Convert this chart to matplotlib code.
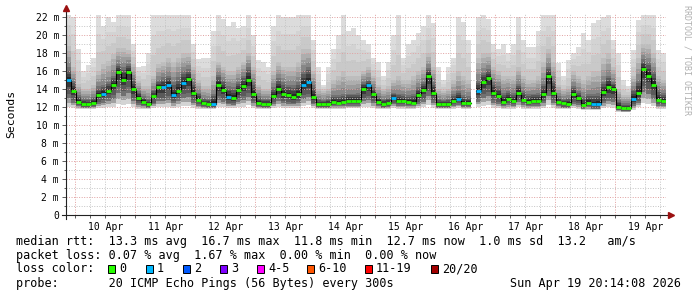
import numpy as np
import matplotlib
matplotlib.use("Agg")
import matplotlib.pyplot as plt
from matplotlib.patches import Rectangle

nan = np.nan

# 2-hour consolidated steps, hours relative to 10 Apr 00:00
t_start = -(3 + 46 / 60)
step_h = 2.0

median = [15.0, 13.8, 12.6, 12.3, 12.3, 12.5, 13.3, 13.5, 13.8, 14.4,
          15.9, 15.0, 15.9, 14.0, 13.0, 12.6, 12.3, 13.2, 14.2, 14.2,
          14.5, 13.3, 13.8, 14.7, 15.1, 13.6, 12.8, 12.4, 12.35, 12.35,
          14.45, 13.9, 13.15, 13.0, 13.85, 14.3, 15.05, 13.4, 12.45, 12.35,
          12.35, 13.2, 14.0, 13.4, 13.3, 13.15, 13.4, 14.5, 14.8, 13.1,
          12.3, 12.3, 12.35, 12.6, 12.5, 12.6, 12.7, 12.7, 12.7, 14.0,
          14.4, 13.4, 12.6, 12.35, 12.45, 13.0, 12.7, 12.7, 12.55, 12.5,
          13.3, 13.9, 15.4, 13.6, 12.3, 12.3, 12.3, 12.7, 12.9, 12.45,
          12.45, nan, 13.8, 14.8, 15.2, 13.6, 13.2, 12.6, 12.9, 12.65,
          13.6, 12.8, 12.6, 12.7, 12.7, 13.4, 15.4, 13.6, 12.55, 12.4,
          12.35, 13.4, 12.95, 12.25, 12.5, 12.3, 12.3, 13.7, 14.2, 14.0,
          12.0, 11.9, 11.85, 12.9, 13.6, 16.2, 15.5, 14.5, 12.75, 12.7]

loss = [1, 0, 0, 0, 0, 0, 0, 1, 0, 0,
        0, 0, 0, 0, 0, 0, 0, 0, 0, 1,
        1, 1, 0, 1, 0, 0, 0, 0, 0, 1,
        0, 0, 1, 0, 0, 0, 0, 0, 0, 0,
        0, 0, 0, 0, 0, 0, 0, 1, 1, 0,
        0, 0, 0, 0, 0, 0, 0, 0, 0, 0,
        1, 0, 0, 0, 0, 1, 0, 0, 0, 0,
        0, 0, 0, 0, 0, 0, 0, 0, 1, 0,
        0, 0, 1, 0, 0, 0, 0, 0, 0, 0,
        0, 0, 0, 0, 0, 0, 0, 0, 0, 0,
        0, 0, 0, 0, 0, 1, 1, 0, 0, 0,
        0, 0, 0, 1, 0, 0, 0, 0, 0, 0]

smoke_top = [22.2, 22.0, 18.5, 16.0, 16.7, 17.4, 22.2, 21.0, 22.0, 21.5,
             22.2, 22.2, 22.2, 19.0, 16.5, 16.6, 18.0, 22.2, 22.2, 22.2,
             22.2, 22.2, 22.2, 22.2, 22.2, 19.0, 17.3, 17.4, 17.4, 20.5,
             22.2, 21.8, 21.0, 21.5, 20.8, 21.0, 22.2, 20.0, 17.2, 17.0,
             16.5, 21.0, 22.2, 22.0, 22.0, 22.0, 22.2, 22.2, 22.2, 19.5,
             16.5, 14.5, 16.5, 18.5, 20.0, 22.2, 20.5, 20.8, 20.0, 19.5,
             19.0, 17.5, 17.0, 15.5, 17.0, 20.0, 22.2, 17.5, 19.0, 19.5,
             20.2, 21.0, 22.2, 21.3, 16.5, 15.0, 16.5, 17.5, 22.0, 21.5,
             19.5, nan, 22.0, 22.2, 21.8, 19.0, 18.5, 19.0, 18.0, 19.0,
             22.0, 19.5, 18.7, 18.7, 20.5, 22.2, 22.2, 22.2, 16.9, 15.4,
             17.2, 18.0, 18.7, 20.2, 19.5, 21.3, 21.7, 22.0, 22.2, 19.4,
             18.0, 15.0, 14.3, 18.3, 21.7, 22.2, 22.2, 22.2, 18.3, 18.0]

smoke_mid = [18.8, 16.4, 14.6, 14.0, 14.0, 14.5, 16.0, 16.8, 17.1, 17.9,
             18.6, 18.6, 18.3, 16.8, 14.9, 14.3, 14.3, 15.5, 16.8, 17.0,
             17.5, 17.0, 17.5, 18.0, 18.0, 16.5, 15.0, 14.3, 14.3, 15.5,
             17.0, 16.5, 16.0, 16.0, 16.5, 17.0, 18.0, 16.5, 14.5, 14.0,
             14.0, 16.0, 17.0, 16.5, 16.5, 16.5, 17.0, 18.5, 18.5, 16.0,
             14.0, 13.8, 14.0, 15.0, 15.5, 16.0, 15.5, 15.5, 15.5, 16.0,
             16.5, 15.5, 14.5, 14.0, 14.3, 15.0, 15.5, 15.0, 15.0, 15.5,
             16.0, 16.5, 18.0, 16.5, 14.0, 13.8, 14.0, 15.0, 16.0, 15.5,
             15.0, nan, 17.5, 18.0, 18.0, 16.5, 16.0, 15.5, 15.5, 15.5,
             16.5, 15.5, 15.0, 15.0, 15.5, 17.0, 18.5, 17.0, 14.5, 14.0,
             14.3, 16.0, 15.5, 15.0, 15.5, 16.0, 16.0, 17.5, 18.0, 16.5,
             14.0, 13.3, 13.3, 15.5, 17.5, 19.0, 19.0, 18.0, 15.5, 15.0]

smoke_dark = [16.4, 14.9, 13.3, 13.0, 12.9, 13.1, 14.3, 14.5, 14.8, 15.5,
              16.8, 16.5, 16.8, 15.2, 13.8, 13.2, 12.9, 13.9, 15.0, 15.3,
              15.5, 14.8, 15.3, 16.0, 16.2, 14.8, 13.6, 13.0, 12.9, 13.5,
              15.6, 15.0, 14.3, 14.2, 14.8, 15.5, 16.5, 14.8, 13.2, 12.9,
              12.9, 14.2, 15.2, 14.8, 14.5, 14.5, 14.8, 16.0, 16.5, 14.5,
              12.9, 12.8, 12.9, 13.3, 13.3, 13.5, 13.5, 13.5, 13.6, 14.8,
              15.0, 14.2, 13.2, 12.9, 13.0, 13.6, 13.5, 13.4, 13.3, 13.4,
              14.2, 14.8, 16.3, 14.8, 12.9, 12.8, 12.9, 13.4, 13.8, 13.3,
              13.2, nan, 15.0, 15.8, 16.2, 14.8, 14.3, 13.6, 13.8, 13.6,
              14.6, 13.8, 13.4, 13.5, 13.6, 14.6, 16.5, 15.0, 13.2, 12.9,
              13.0, 14.3, 13.8, 13.2, 13.4, 13.5, 13.6, 14.8, 15.5, 14.8,
              12.8, 12.4, 12.4, 14.0, 15.0, 17.3, 17.0, 16.0, 14.0, 13.6]

smoke_low = [13.5, 12.8, 12.2, 12.0, 12.0, 12.1, 12.6, 12.8, 13.0, 13.3,
             14.2, 13.8, 14.2, 13.0, 12.4, 12.2, 12.0, 12.5, 13.0, 13.0,
             13.2, 12.7, 13.0, 13.4, 13.6, 12.8, 12.3, 12.1, 12.0, 12.0,
             13.2, 12.9, 12.5, 12.4, 12.9, 13.2, 13.6, 12.7, 12.1, 12.0,
             12.0, 12.6, 13.0, 12.7, 12.6, 12.5, 12.7, 13.3, 13.5, 12.5,
             12.0, 12.0, 12.0, 12.2, 12.2, 12.2, 12.3, 12.3, 12.3, 13.0,
             13.2, 12.7, 12.2, 12.0, 12.1, 12.5, 12.3, 12.3, 12.2, 12.2,
             12.6, 12.9, 13.8, 12.8, 12.0, 12.0, 12.0, 12.3, 12.4, 12.1,
             12.1, nan, 12.9, 13.5, 13.7, 12.8, 12.6, 12.2, 12.4, 12.3,
             12.8, 12.4, 12.2, 12.3, 12.3, 12.7, 13.8, 12.8, 12.2, 12.0,
             12.0, 12.6, 12.4, 11.9, 12.1, 11.9, 11.9, 12.7, 13.0, 12.9,
             11.7, 11.6, 11.6, 12.3, 12.7, 14.3, 14.0, 13.3, 12.3, 12.3]

smoke_min = [12.0, 11.9, 11.8, 11.8, 11.8, 11.8, 11.9, 11.9, 12.0, 12.0,
             12.3, 12.2, 12.3, 12.0, 11.8, 11.8, 11.8, 11.9, 12.0, 12.0,
             12.0, 11.9, 12.0, 12.1, 12.1, 11.9, 11.8, 11.8, 11.8, 11.8,
             12.0, 12.0, 11.9, 11.9, 12.0, 12.0, 12.2, 11.9, 11.8, 11.8,
             11.8, 11.9, 12.0, 11.9, 11.9, 11.9, 11.9, 12.1, 12.2, 11.9,
             11.8, 11.8, 11.8, 11.8, 11.8, 11.8, 11.9, 11.9, 11.9, 12.0,
             12.0, 11.9, 11.8, 11.8, 11.8, 11.9, 11.8, 11.8, 11.8, 11.8,
             11.9, 12.0, 12.2, 11.9, 11.8, 11.8, 11.8, 11.8, 11.9, 11.8,
             11.8, nan, 12.0, 12.1, 12.2, 11.9, 11.9, 11.8, 11.8, 11.8,
             12.0, 11.8, 11.8, 11.8, 11.8, 11.9, 12.2, 11.9, 11.8, 11.8,
             11.8, 11.9, 11.8, 11.7, 11.7, 11.7, 11.7, 11.9, 12.0, 11.9,
             11.5, 11.4, 11.4, 11.7, 12.0, 12.4, 12.3, 12.1, 11.8, 11.8]

day_labels = ["10 Apr", "11 Apr", "12 Apr", "13 Apr", "14 Apr",
              "15 Apr", "16 Apr", "17 Apr", "18 Apr", "19 Apr"]
y_ticks = [0, 2, 4, 6, 8, 10, 12, 14, 16, 18, 20, 22]
y_labels = ["0", "2 m", "4 m", "6 m", "8 m", "10 m", "12 m",
            "14 m", "16 m", "18 m", "20 m", "22 m"]

loss_names = ["0", "1", "2", "3", "4-5", "6-10", "11-19", "20/20"]
loss_colors = ["#26ff00", "#00b8ff", "#0059ff", "#7e00ff",
               "#ff00ff", "#ff5500", "#ff0000", "#a10000"]

line_rtt = "median rtt:  13.3 ms avg  16.7 ms max  11.8 ms min  12.7 ms now  1.0 ms sd  13.2   am/s"
line_loss = "packet loss: 0.07 % avg  1.67 % max  0.00 % min  0.00 % now"
line_probe = "probe:       20 ICMP Echo Pings (56 Bytes) every 300s"
stamp = "Sun Apr 19 20:14:08 2026"

# ---------------------------------------------------------------
W, H = 697, 297
fig = plt.figure(figsize=(W / 100, H / 100), dpi=100)
fig.patch.set_facecolor("white")
ax_l, ax_r, ax_b, ax_t = 66, 666, 215, 14.3
ax = fig.add_axes([ax_l / W, 1 - ax_b / H, (ax_r - ax_l) / W, (ax_b - ax_t) / H])
ax.set_facecolor("white")
for s in ax.spines.values():
    s.set_visible(False)

n = len(median)
left = t_start + step_h * np.arange(n)
t_end = t_start + step_h * n
ax.set_xlim(t_start, t_end)
ax.set_ylim(0, 22.3)

med = np.array(median)
sm_top = np.array(smoke_top)
sm_mid = np.array(smoke_mid)
sm_dark = np.array(smoke_dark)
sm_low = np.array(smoke_low)
sm_min = np.array(smoke_min)


def shade(lo, hi, colors):
    # fill lo..hi with a stack of grey steps, first colour at the bottom
    k = len(colors)
    for j, c in enumerate(colors):
        b = lo + (hi - lo) * j / k
        ax.bar(left, (hi - lo) / k, bottom=b, width=step_h, align="edge",
               color=c, linewidth=0, zorder=1)


# smoke: light outside, dark close to the median
shade(sm_min, sm_low, ["#d4d4d4", "#a0a0a0", "#707070"])
shade(med, sm_dark, ["#262626", "#404040", "#5a5a5a", "#727272"])
shade(sm_low, med, ["#5a5a5a", "#3a3a3a"])
shade(sm_dark, sm_mid, ["#878787", "#9b9b9b", "#adadad", "#bdbdbd"])
shade(sm_mid, sm_top, ["#c9c9c9", "#d3d3d3", "#dcdcdc"])

# grid
dots = (0, (1, 1.6))
for v in range(1, 23):
    if v % 2 == 0:
        ax.axhline(v, color="#e0a0a0", lw=0.7, ls=dots, zorder=2)
    else:
        ax.axhline(v, color="#c4c4c4", lw=0.7, ls=dots, zorder=2)
for hr in range(0, 240, 6):
    if hr > t_end:
        break
    if hr % 24 == 0:
        ax.axvline(hr, color="#e0a0a0", lw=0.7, ls=dots, zorder=2)
    else:
        ax.axvline(hr, color="#c4c4c4", lw=0.7, ls=dots, zorder=2)

# median line
ax.step(np.append(left, t_end), np.append(med, med[-1]), where="post",
        color="black", lw=0.8, zorder=3)
seg_colors = [loss_colors[k] for k in loss]
ax.hlines(med, left, left + step_h, colors=seg_colors, lw=2.0, zorder=4)

# axes lines and arrows
ax.plot([0, 0], [-0.02, 1.025], transform=ax.transAxes, color="#222222",
        lw=0.8, clip_on=False, zorder=5)
ax.plot([-0.007, 1.008], [0, 0], transform=ax.transAxes, color="#222222",
        lw=0.8, clip_on=False, zorder=5)
ax.plot([0], [1.03], marker="^", ms=4, color="#9b1010", transform=ax.transAxes,
        clip_on=False, zorder=6)
ax.plot([1.008], [0], marker=">", ms=4, color="#9b1010", transform=ax.transAxes,
        clip_on=False, zorder=6)

# ticks
ax.set_yticks(y_ticks)
ax.set_yticklabels(y_labels, family="DejaVu Sans Mono", fontsize=7)
ax.set_yticks(range(1, 23, 2), minor=True)
ax.tick_params(axis="y", which="major", length=3, width=0.6, pad=2, color="#444444")
ax.tick_params(axis="y", which="minor", length=1.5, width=0.6, color="#444444")
noons = [12 + 24 * k for k in range(len(day_labels))]
ax.set_xticks(noons)
ax.set_xticklabels(day_labels, family="DejaVu Sans Mono", fontsize=7)
ax.set_xticks([h for h in range(0, 237, 6) if h % 24 != 12], minor=True)
ax.tick_params(axis="x", which="both", length=2, width=0.6, pad=3, color="#444444")

# labels
fig.text(11 / W, 1 - 114 / H, "Seconds", rotation=90, ha="center", va="center",
         family="DejaVu Sans Mono", fontsize=8.2)
fig.text(687 / W, 1 - 5 / H, "RRDTOOL / TOBI OETIKER", rotation=270,
         ha="center", va="top", family="DejaVu Sans Mono", fontsize=6,
         color="#b0b0b0")

fs = 8.5
mono = "DejaVu Sans Mono"
fig.text(16 / W, 1 - 241 / H, line_rtt, family=mono, fontsize=fs, va="center")
fig.text(16 / W, 1 - 255 / H, line_loss, family=mono, fontsize=fs, va="center")
fig.text(16 / W, 1 - 269 / H, "loss color:", family=mono, fontsize=fs, va="center")
sq_x = [108, 146, 183, 220, 257, 307, 365, 431]
for sx, name, c in zip(sq_x, loss_names, loss_colors):
    fig.patches.append(Rectangle((sx / W, 1 - 273 / H), 7 / W, 8 / H,
                                 transform=fig.transFigure, facecolor=c,
                                 edgecolor="black", lw=0.7))
    fig.text((sx + 11) / W, 1 - 269 / H, name, family=mono, fontsize=fs, va="center")
fig.text(16 / W, 1 - 284 / H, line_probe, family=mono, fontsize=fs, va="center")
fig.text(681 / W, 1 - 284 / H, stamp, family=mono, fontsize=fs, va="center", ha="right")

fig.savefig("out.png", dpi=100, facecolor="white")
